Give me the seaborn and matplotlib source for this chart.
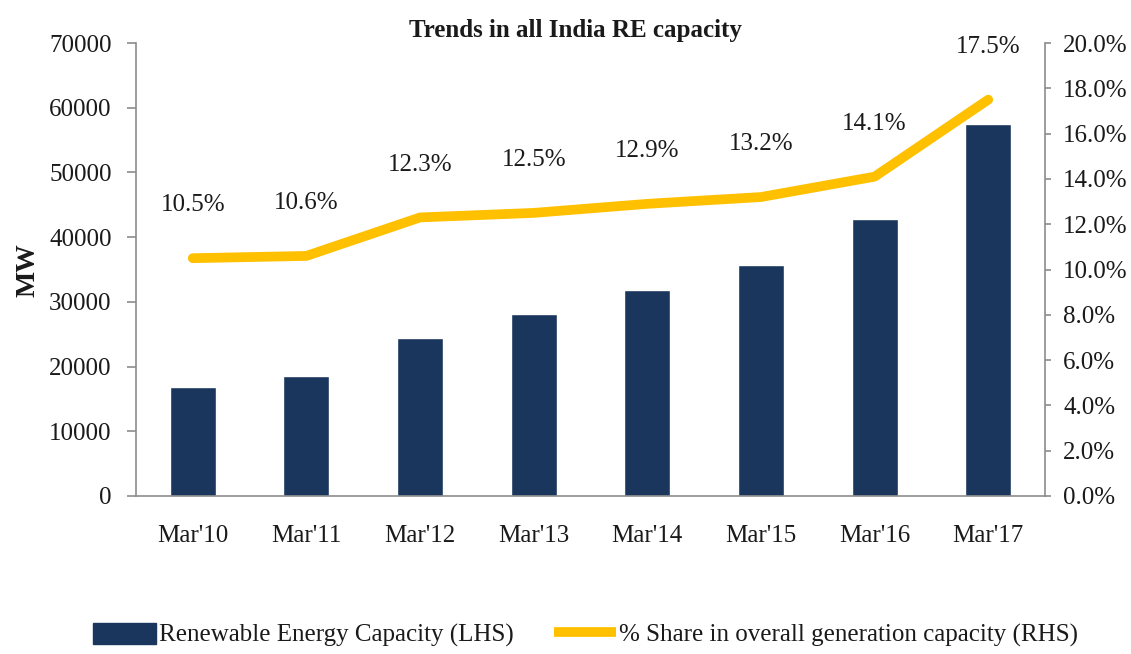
import numpy as np
import pandas as pd
import matplotlib
matplotlib.use("Agg")
import matplotlib.pyplot as plt
import seaborn as sns
from matplotlib.lines import Line2D
from matplotlib.patches import Patch
from matplotlib.ticker import FuncFormatter

# data
months = ["Mar'10", "Mar'11", "Mar'12", "Mar'13", "Mar'14", "Mar'15", "Mar'16", "Mar'17"]
capacity_mw = [16850, 18500, 24480, 28080, 31900, 35770, 42810, 57500]
share_pct = [10.5, 10.6, 12.3, 12.5, 12.9, 13.2, 14.1, 17.5]

bar_color = "#1B365D"
line_color = "#FFC000"
text_color = "#1a1a1a"
spine_color = "#8c8c8c"

df = pd.DataFrame({"month": months, "capacity": capacity_mw, "share": share_pct})

sns.set_theme(style="white")
plt.rcParams["font.family"] = ["Liberation Serif", "DejaVu Serif"]
plt.rcParams["text.color"] = text_color
plt.rcParams["xtick.color"] = text_color
plt.rcParams["ytick.color"] = text_color

fig = plt.figure(figsize=(11.31, 6.54), dpi=100)
ax = fig.add_axes([0.1202, 0.2416, 0.8038, 0.6926])

sns.barplot(data=df, x="month", y="capacity", color=bar_color, saturation=1,
            width=0.405, ax=ax)
ax.set_xlim(-0.5, len(months) - 0.5)
ax.set_ylim(0, 70000)
ax.set_yticks(np.arange(0, 70001, 10000))
ax.set_xlabel("")
ax.set_ylabel("")
ax.set_xticks(np.arange(-0.5, len(months), 1), minor=True)
ax.tick_params(axis="x", which="major", length=0, pad=21, labelsize=18)
ax.tick_params(axis="x", which="minor", length=7, width=1.2, color=spine_color, direction="out")
ax.tick_params(axis="y", length=6.5, width=1.2, color=spine_color, pad=11, labelsize=18)
for side in ["top", "right"]:
    ax.spines[side].set_visible(False)
for side in ["left", "bottom"]:
    ax.spines[side].set_color(spine_color)
    ax.spines[side].set_linewidth(1.2)

# share line on right axis
ax2 = ax.twinx()
x_pos = np.arange(len(months))
sns.lineplot(x=x_pos, y=df["share"], color=line_color, linewidth=7,
             solid_capstyle="round", ax=ax2)
ax2.set_ylim(0, 20)
ax2.set_yticks(np.arange(0, 20.1, 2))
ax2.yaxis.set_major_formatter(FuncFormatter(lambda v, p: f"{v:.1f}%"))
ax2.set_ylabel("")
ax2.tick_params(axis="y", length=4, width=1.2, color=spine_color, pad=9, labelsize=18)
for side in ["top", "left", "bottom"]:
    ax2.spines[side].set_visible(False)
ax2.spines["right"].set_color(spine_color)
ax2.spines["right"].set_linewidth(1.2)
ax2.set_xlim(-0.5, len(months) - 0.5)

for i, v in enumerate(share_pct):
    ax2.annotate(f"{v:.1f}%", (i, v), xytext=(0, 38), textcoords="offset points",
                 ha="center", va="center", fontsize=18)

fig.text(0.509, 1 - 30 / 654, "Trends in all India RE capacity", ha="center", va="center",
         fontsize=18, fontweight="bold")
fig.text(28 / 1131, 1 - 270 / 654, "MW", rotation=90, ha="center", va="center",
         fontsize=20, fontweight="bold")

handles = [Patch(facecolor=bar_color, edgecolor=bar_color),
           Line2D([0], [0], color=line_color, linewidth=7, solid_capstyle="butt")]
labels = ["Renewable Energy Capacity (LHS)", "% Share in overall generation capacity (RHS)"]
fig.legend(handles, labels, loc="center", bbox_to_anchor=(0.518, 0.029), ncol=2,
           frameon=False, fontsize=18, handlelength=2.5, handleheight=0.95,
           handletextpad=0.12, columnspacing=1.6)

fig.savefig("out.png", dpi=100)
